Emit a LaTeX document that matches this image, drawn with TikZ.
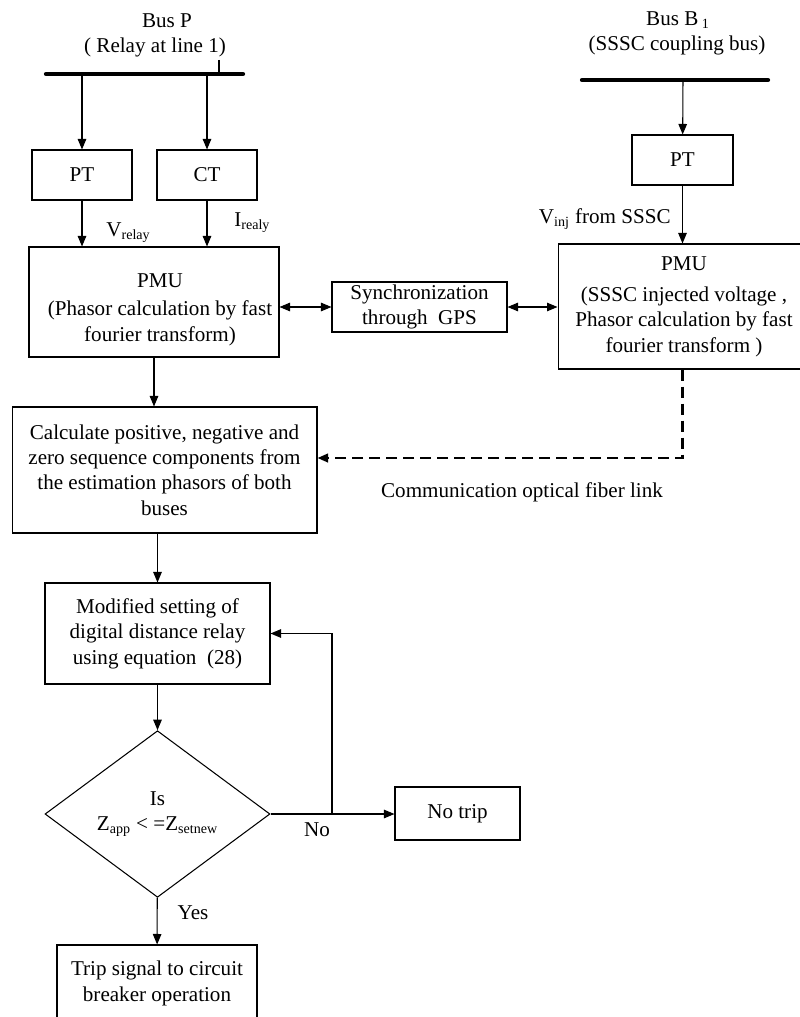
\documentclass[tikz,border=0pt]{standalone}
\usepackage{fontspec}
\setmainfont{Liberation Serif}
\usetikzlibrary{arrows.meta,shapes.geometric}
\begin{document}
\begin{tikzpicture}[x=0.02cm,y=-0.02cm,line width=0.6pt,
    font=\fontsize{12}{14.5}\selectfont,
    box/.style={draw,align=center,inner sep=0pt},
    arr/.style={-{Triangle[length=0.21cm,width=0.17cm]}},
    dblarr/.style={{Triangle[length=0.21cm,width=0.17cm]}-{Triangle[length=0.21cm,width=0.17cm]}},
    busbar/.style={line width=2.4pt,line cap=round},
    fiber/.style={line width=1.3pt,dash pattern=on 0.22cm off 0.12cm}]
  \useasboundingbox (0,0) rectangle (799,1017);
  \node (busPlbl) at (167,21) {Bus P};
  \node (busPsub) at (155,47) {( Relay at line 1)};
  \draw[busbar] (46,74) -- (243,74);
  \draw (219,60) -- (219,74);
  \coordinate (tapPT) at (82,74);
  \coordinate (tapCT) at (207,74);
  \node[box,minimum width=2cm,minimum height=1cm] (ptP) at (82,175) {PT};
  \node[box,minimum width=2cm,minimum height=1cm] (ctP) at (207,175) {CT};
  \node[box,minimum width=5cm,minimum height=2.2cm] (pmuP) at (154,302) {};
  \node[align=center] (pmuPtxt) at (160,310)
    {PMU\\[1.5pt](Phasor calculation by fast\\fourier transform)};
  \node[box,minimum width=3.5cm,minimum height=1cm] (sync) at (419.5,307)
    {Synchronization\\through\ \ GPS};
  \node (busBlbl) at (678,20) {Bus B\,\textsubscript{1}};
  \node (busBsub) at (677,45) {(SSSC coupling bus)};
  \draw[busbar] (582,80) -- (768,80);
  \coordinate (tapB) at (683,80);
  \node[box,minimum width=2.02cm,minimum height=1cm] (ptB) at (682.5,160) {PT};
  \node[box,minimum width=5.04cm,minimum height=2.5cm] (pmuB) at (684,306.5)
    {PMU\\[3pt](SSSC injected voltage ,\\Phasor calculation by fast\\fourier transform )};
  \node[box,minimum width=6.1cm,minimum height=2.52cm] (calc) at (164.5,470)
    {Calculate positive, negative and\\zero sequence components from\\the estimation phasors of both\\buses};
  \node[box,minimum width=4.5cm,minimum height=2.02cm] (mod) at (157.5,633.5)
    {Modified setting of\\digital distance relay\\using equation\ \ (28)};
  \node[draw,diamond,align=center,inner sep=0pt,minimum width=4.5cm,minimum height=3.24cm] (dec) at (157.5,814)
    {Is\\Z\textsubscript{app} < =Z\textsubscript{setnew}};
  \node[box,minimum width=2.5cm,minimum height=1.06cm] (notrip) at (457.5,813.5) {No trip};
  \node[box,minimum width=4cm,minimum height=1.54cm] (trip) at (157,983.5)
    {Trip signal to circuit\\breaker operation};
  \node[anchor=west] (vrelay) at (100,233) {V\textsubscript{relay}};
  \node[anchor=west] (irealy) at (228,223) {I\textsubscript{realy}};
  \node[anchor=east] (vinj) at (677,219) {V\textsubscript{inj} from SSSC};
  \node (commlbl) at (522,492) {Communication optical fiber link};
  \node (nolbl) at (317,830) {No};
  \node (yeslbl) at (193,913) {Yes};
  \coordinate (loopb) at (332,814);
  \draw[arr] (tapPT) -- (ptP);
  \draw[arr] (tapCT) -- (ctP);
  \draw[arr] (ptP) -- (ptP |- pmuP.north);
  \draw[arr] (ctP) -- (ctP |- pmuP.north);
  \draw[dblarr] (pmuP.east |- sync.west) -- (sync.west);
  \draw[dblarr] (sync.east) -- (sync.east -| pmuB.west);
  \draw[arr] (tapB) -- (ptB);
  \draw[arr] (ptB) -- (ptB |- pmuB.north);
  \draw[fiber,arr] (ptB |- pmuB.south) |- ([yshift=0.24cm]calc.east);
  \draw[arr] (pmuP.south) -- (pmuP.south |- calc.north);
  \draw[arr] (calc.south -| mod.north) -- (mod.north);
  \draw[arr] (mod) -- (dec);
  \draw[arr] (dec.east) -- (dec.east -| notrip.west);
  \draw[arr] (loopb) |- (mod.east);
  \draw[arr] (dec) -- (trip);
\end{tikzpicture}
\end{document}
